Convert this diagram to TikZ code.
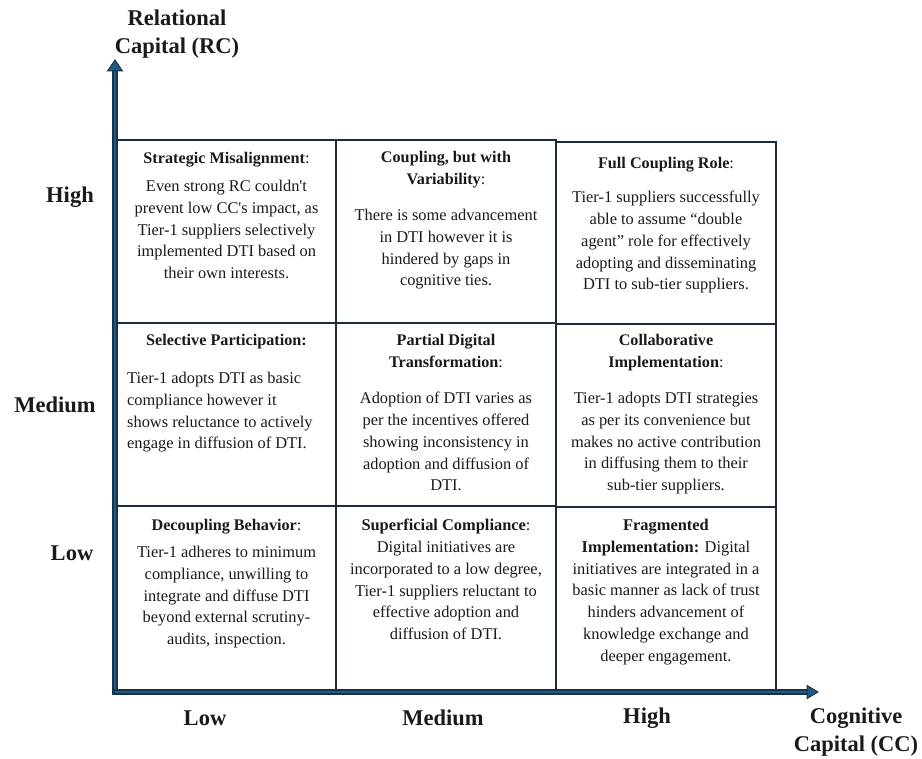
\documentclass[tikz,border=0pt]{standalone}
\usepackage{fontspec}
\setmainfont{Liberation Serif}[Ligatures={TeXOff,NoCommon}]
\definecolor{axisblue}{HTML}{1F5A82}
\definecolor{axisdark}{HTML}{17324A}
\definecolor{cellline}{HTML}{1C2C3C}
\definecolor{txt}{HTML}{1A1A1A}
\begin{document}
\begin{tikzpicture}[x=1pt,y=-1pt,
  cell/.style={draw=cellline, line width=1.8pt, inner sep=0pt, fill=white},
  head/.style={anchor=north, align=center, inner sep=0pt, font=\fontsize{16.2}{21.7}\selectfont\bfseries, text=txt},
  body/.style={anchor=north, align=center, inner sep=0pt, font=\fontsize{16.4}{21.8}\selectfont, text=txt},
  axlab/.style={font=\fontsize{22.5}{28.5}\selectfont\bfseries, text=txt, inner sep=0pt, align=center},
  axline/.style={axisdark, line width=5.5pt},
  axinner/.style={axisblue, line width=2.6pt},
  axhead/.style={fill=axisblue, draw=axisdark, line width=1pt, line join=miter}
]
\useasboundingbox (0,0) rectangle (922,759);

% cells
\node[cell, minimum width=219pt, minimum height=183pt] (c11) at (226.5,231.5) {};
\node[cell, minimum width=220pt, minimum height=183pt] (c12) at (446,231.5) {};
\node[cell, minimum width=220pt, minimum height=182pt] (c13) at (666,233) {};
\node[cell, minimum width=219pt, minimum height=183pt] (c21) at (226.5,414.5) {};
\node[cell, minimum width=220pt, minimum height=183pt] (c22) at (446,414.5) {};
\node[cell, minimum width=220pt, minimum height=183pt] (c23) at (666,415.5) {};
\node[cell, minimum width=219pt, minimum height=184pt] (c31) at (226.5,598) {};
\node[cell, minimum width=220pt, minimum height=184pt] (c32) at (446,598) {};
\node[cell, minimum width=220pt, minimum height=183pt] (c33) at (666,598.5) {};

% axes
\coordinate (O) at (115,692);
\coordinate (ybase) at (115,71);
\coordinate (ytip) at (115,60);
\coordinate (xbase) at (807,692);
\coordinate (xtip) at (818,692);
\draw[axline] ([yshift=3pt]O) -- (ybase);
\draw[axinner] (O) -- (ybase);
\draw[axline] ([xshift=-3pt]O) -- (xbase);
\draw[axinner] (O) -- (xbase);
\draw[axhead] ([xshift=-7.5pt]ybase) -- (ytip) -- ([xshift=7.5pt]ybase) -- cycle;
\draw[axhead] ([yshift=-6.5pt]xbase) -- (xtip) -- ([yshift=6.5pt]xbase) -- cycle;

% axis labels
\node[axlab] (rc) at (177,34) {Relational\\Capital (RC)};
\node[axlab] (cc) at (856,732) {Cognitive\\Capital (CC)};
\node[axlab] (yhigh) at (70,197) {High};
\node[axlab] (ymed) at (55,405) {Medium};
\node[axlab] (ylow) at (72,553) {Low};
\node[axlab] (xlow) at (205,718) {Low};
\node[axlab] (xmed) at (443,718) {Medium};
\node[axlab] (xhigh) at (647,718) {High};

% cell texts
\node[head] (h11) at (226.5,152) {Strategic Misalignment{\mdseries:}};
\node[body] (b11) at (226.5,180) {Even strong RC couldn't\\prevent low CC's impact, as\\Tier-1 suppliers selectively\\implemented DTI based on\\their own interests.};

\node[head] (h12) at (446,151) {Coupling, but with\\Variability{\mdseries:}};
\node[body] (b12) at (446,209) {There is some advancement\\in DTI however it is\\hindered by gaps in\\cognitive ties.};

\node[head] (h13) at (666,157) {Full Coupling Role{\mdseries:}};
\node[body] (b13) at (666,191) {Tier-1 suppliers successfully\\able to assume “double\\agent” role for effectively\\adopting and disseminating\\DTI to sub-tier suppliers.};

\node[head] (h21) at (226.5,334) {Selective Participation:};
\node[body, anchor=north west, align=left] (b21) at (127,372) {Tier-1 adopts DTI as basic\\compliance however it\\shows reluctance to actively\\engage in diffusion of DTI.};

\node[head] (h22) at (446,334) {Partial Digital\\Transformation{\mdseries:}};
\node[body] (b22) at (446,392) {Adoption of DTI varies as\\per the incentives offered\\showing inconsistency in\\adoption and diffusion of\\DTI.};

\node[head] (h23) at (666,334) {Collaborative\\Implementation{\mdseries:}};
\node[body] (b23) at (666,392) {Tier-1 adopts DTI strategies\\as per its convenience but\\makes no active contribution\\in diffusing them to their\\sub-tier suppliers.};

\node[head] (h31) at (226.5,519) {Decoupling Behavior{\mdseries:}};
\node[body] (b31) at (226.5,546) {Tier-1 adheres to minimum\\compliance, unwilling to\\integrate and diffuse DTI\\beyond external scrutiny-\\audits, inspection.};

\node[body] (b32) at (446,519) {\textbf{Superficial Compliance}:\\Digital initiatives are\\incorporated to a low degree,\\Tier-1 suppliers reluctant to\\effective adoption and\\diffusion of DTI.};

\node[body] (b33) at (666,519) {\textbf{Fragmented}\\\textbf{Implementation:} Digital\\initiatives are integrated in a\\basic manner as lack of trust\\hinders advancement of\\knowledge exchange and\\deeper engagement.};
\end{tikzpicture}
\end{document}
